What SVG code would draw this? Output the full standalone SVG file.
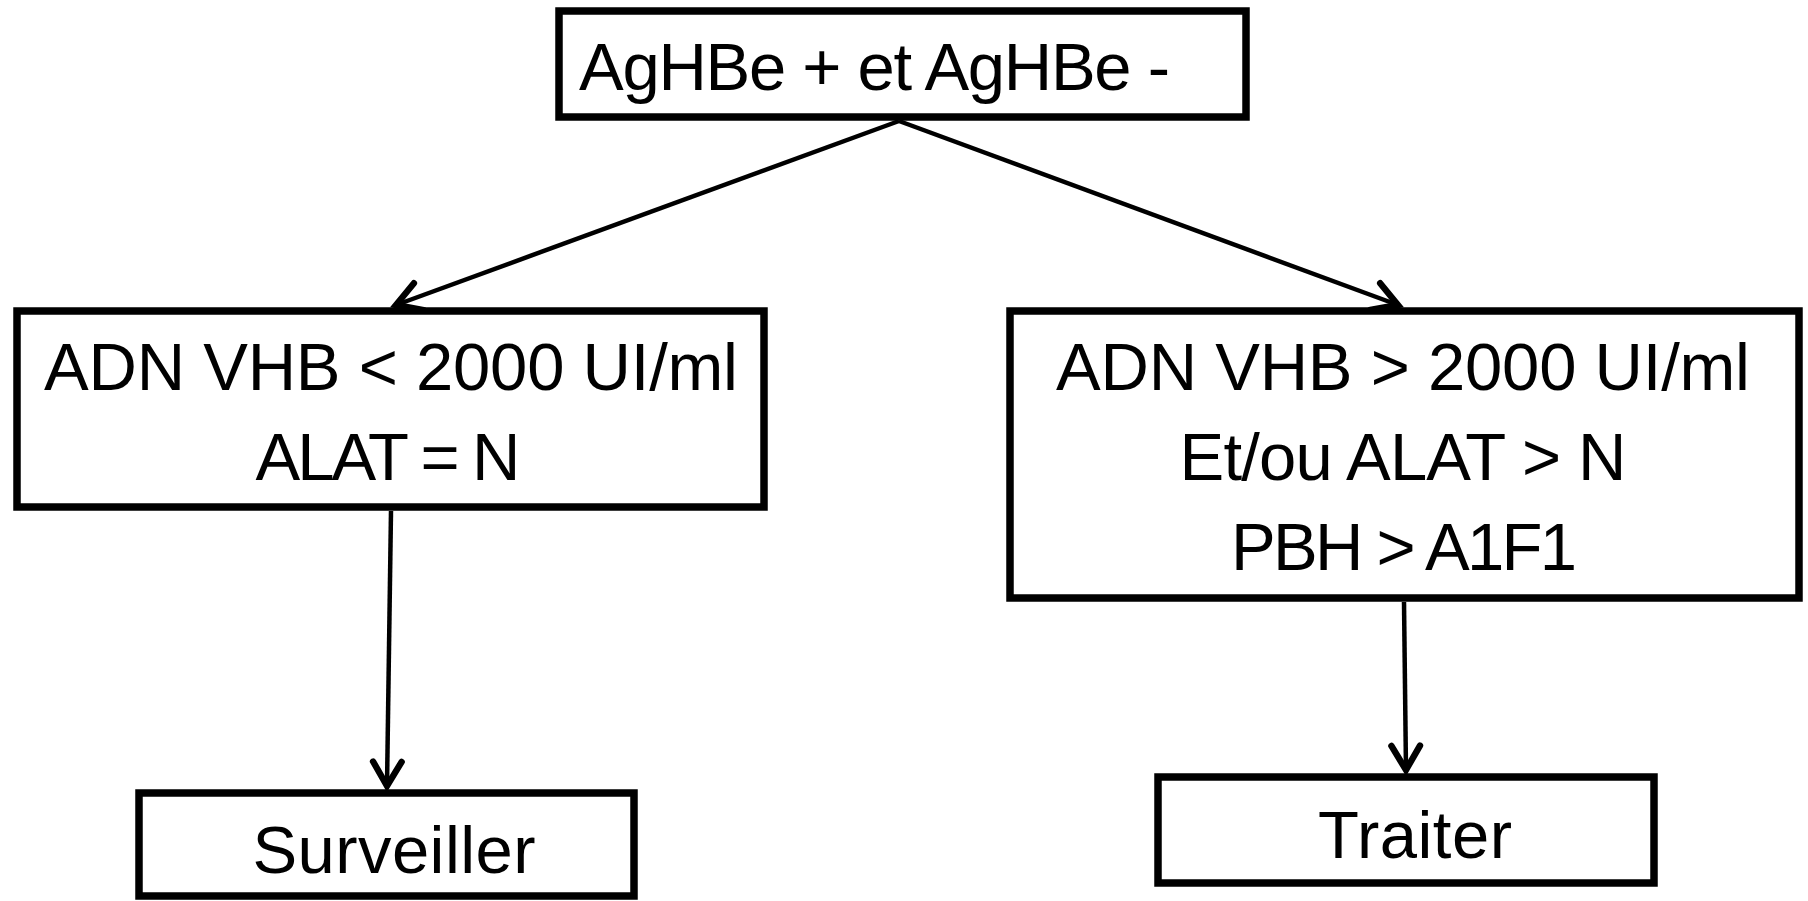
<svg xmlns="http://www.w3.org/2000/svg" width="1808" height="901" viewBox="0 0 1808 901">
  <style>
    .box { fill: #ffffff; stroke: #000000; stroke-width: 7.5; }
    .lbl { font-family: "Liberation Sans", Arial, sans-serif; font-size: 67px; fill: #000000; text-anchor: middle; }
    .edge { fill: none; stroke: #000000; stroke-width: 4.5; }
  </style>
  <defs>
    <marker id="arrow" markerUnits="userSpaceOnUse" markerWidth="40" markerHeight="40" viewBox="-24 -14 28 28" refX="0" refY="0" orient="auto" overflow="visible">
      <path d="M -17 -10 L 0 0 L -17 10" fill="none" stroke="#000000" stroke-width="4.5" stroke-linecap="round" stroke-linejoin="miter"/>
    </marker>
  </defs>
  <rect width="1808" height="901" fill="#ffffff"/>

  <!-- arrows between the decision boxes -->
  <g id="connectors">
    <line class="edge" x1="899" y1="121" x2="396" y2="305" marker-end="url(#arrow)"/>
    <line class="edge" x1="899" y1="121" x2="1398" y2="305" marker-end="url(#arrow)"/>
    <line class="edge" x1="391" y1="511" x2="387" y2="786" marker-end="url(#arrow)"/>
    <line class="edge" x1="1404" y1="602" x2="1406" y2="770" marker-end="url(#arrow)"/>
  </g>

  <g id="node-hbe">
    <rect class="box" x="559" y="11" width="687" height="106"/>
    <text class="lbl" x="579" y="90" style="text-anchor:start" textLength="591">AgHBe + et AgHBe -</text>
  </g>

  <g id="node-low">
    <rect class="box" x="17" y="311" width="747" height="196"/>
    <text class="lbl" x="391" y="390" textLength="694">ADN VHB &lt; 2000 UI/ml</text>
    <text class="lbl" x="388" y="480" textLength="265">ALAT = N</text>
  </g>

  <g id="node-high">
    <rect class="box" x="1010" y="311" width="789" height="287"/>
    <text class="lbl" x="1403" y="390" textLength="694">ADN VHB &gt; 2000 UI/ml</text>
    <text class="lbl" x="1403" y="480" textLength="447">Et/ou ALAT &gt; N</text>
    <text class="lbl" x="1404" y="570" textLength="346">PBH &gt; A1F1</text>
  </g>

  <g id="node-surveiller">
    <rect class="box" x="139" y="793" width="495" height="103"/>
    <text class="lbl" x="394" y="873" textLength="283">Surveiller</text>
  </g>

  <g id="node-traiter">
    <rect class="box" x="1158" y="777" width="496" height="106"/>
    <text class="lbl" x="1415" y="858" textLength="194">Traiter</text>
  </g>
</svg>
